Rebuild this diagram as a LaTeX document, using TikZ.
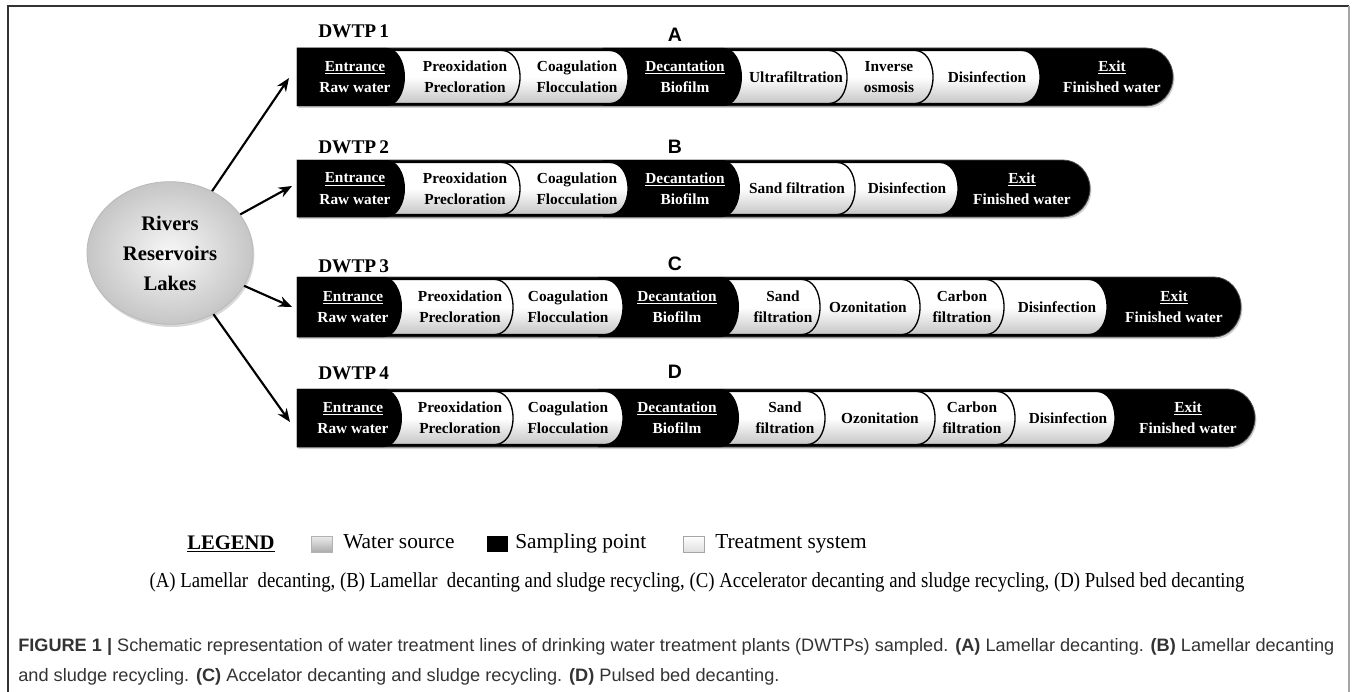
\documentclass[tikz,border=0pt]{standalone}
\usepackage{fontspec}
\setmainfont{Liberation Serif}
\newfontfamily\capfont{Liberation Sans}
\usetikzlibrary{shapes.geometric,arrows.meta,shadows}
\newcommand\barseg[6]{%
  \pgfmathsetmacro\xb{#2-#5}%
  \pgfmathsetmacro\ym{(#3+#4)/2}%
  \pgfmathsetmacro\kx{\xb+0.5523*#5}%
  \pgfmathsetmacro\kyA{\ym-0.5523*(#4-#3)/2}%
  \pgfmathsetmacro\kyB{\ym+0.5523*(#4-#3)/2}%
  \path[#6] (#1,#3) -- (\xb,#3) .. controls (\kx,#3) and (#2,\kyA) .. (#2,\ym)
     .. controls (#2,\kyB) and (\kx,#4) .. (\xb,#4) -- (#1,#4) -- cycle;}
\newcommand\wseg[4]{\barseg{#1}{#2}{#3+2.5}{#4-2.5}{18}{whiteseg}}
\newcommand\bseg[4]{\barseg{#1}{#2}{#3}{#4}{18}{blackseg}}
\newcommand\bgbar[4]{\barseg{#1}{#2}{#3}{#4}{27}{bgbarstyle}}
\begin{document}
\begin{tikzpicture}[x=0.75pt,y=-0.75pt,
  segtxt/.style={font=\fontsize{11.5}{16}\selectfont\bfseries, align=center, inner sep=0pt},
  wtxt/.style={segtxt, text=black},
  btxt/.style={segtxt, text=white},
  whiteseg/.style={draw=black, line width=1pt, top color=white, bottom color=gray!45, middle color=white},
  blackseg/.style={fill=black},
  bgbarstyle/.style={fill=black, draw=gray!60!black, line width=0.6pt,
     drop shadow={shadow xshift=1pt, shadow yshift=-1.5pt, opacity=0.35}},
  plantlbl/.style={font=\fontsize{14.5}{16}\selectfont\bfseries, anchor=west, inner sep=0pt},
  letterlbl/.style={font=\capfont\fontsize{14.6}{16}\selectfont\bfseries, inner sep=0pt},
  arr/.style={-{Stealth[length=10pt,width=8pt]}, line width=1.6pt},
  legsq/.style={minimum width=15.5pt, minimum height=12pt, inner sep=0pt},
  legtxt/.style={font=\fontsize{16}{18}\selectfont, anchor=base west, inner sep=0pt}]
\useasboundingbox (0,0) rectangle (1357,692);
\fill[white] (0,0) rectangle (1357,692);
% frame
\draw[gray!40!black, line width=1.1pt] (8,692) -- (8,6) -- (1349,6);
\draw[gray!70, line width=1.6pt] (1349,6) -- (1349,692);

% ---------- Row 1 ----------
\bgbar{297}{1173}{48}{106}
\wseg{908}{1040}{48}{106}
\wseg{822}{933}{48}{106}
\wseg{717}{847}{48}{106}
\bseg{603}{742}{48}{106}
\wseg{495}{628}{48}{106}
\wseg{380}{520}{48}{106}
\bseg{297}{405}{48}{106}
\node[plantlbl] (p1) at (318,31) {DWTP\,1};
\node[letterlbl] (lA) at (675,35) {A};
\node[btxt] (r1a) at (355,77) {\underline{Entrance}\\Raw water};
\node[wtxt] (r1b) at (465,77) {Preoxidation\\Precloration};
\node[wtxt] (r1c) at (577,77) {Coagulation\\Flocculation};
\node[btxt] (r1d) at (685,77) {\underline{Decantation}\\Biofilm};
\node[wtxt] (r1e) at (796,77) {Ultrafiltration};
\node[wtxt] (r1f) at (889,77) {Inverse\\osmosis};
\node[wtxt] (r1g) at (987,77) {Disinfection};
\node[btxt] (r1h) at (1112,77) {\underline{Exit}\\Finished water};

% ---------- Row 2 ----------
\bgbar{297}{1090}{160}{217}
\wseg{833}{958}{160}{217}
\wseg{715}{855}{160}{217}
\bseg{603}{740}{160}{217}
\wseg{495}{628}{160}{217}
\wseg{380}{520}{160}{217}
\bseg{297}{405}{160}{217}
\node[plantlbl] (p2) at (318,147) {DWTP\,2};
\node[letterlbl] (lB) at (675,147) {B};
\node[btxt] (r2a) at (355,188.5) {\underline{Entrance}\\Raw water};
\node[wtxt] (r2b) at (465,188.5) {Preoxidation\\Precloration};
\node[wtxt] (r2c) at (577,188.5) {Coagulation\\Flocculation};
\node[btxt] (r2d) at (685,188.5) {\underline{Decantation}\\Biofilm};
\node[wtxt] (r2e) at (797,188.5) {Sand filtration};
\node[wtxt] (r2f) at (907,188.5) {Disinfection};
\node[btxt] (r2g) at (1022,188.5) {\underline{Exit}\\Finished water};

% ---------- Row 3 ----------
\bgbar{297}{1241}{277}{337}
\wseg{979}{1107}{277}{337}
\wseg{895}{1004}{277}{337}
\wseg{795}{920}{277}{337}
\wseg{714}{820}{277}{337}
\bseg{598}{739}{277}{337}
\wseg{488}{623}{277}{337}
\wseg{377}{513}{277}{337}
\bseg{297}{402}{277}{337}
\node[plantlbl] (p3) at (318,266) {DWTP\,3};
\node[letterlbl] (lC) at (675,264) {C};
\node[btxt] (r3a) at (353,307) {\underline{Entrance}\\Raw water};
\node[wtxt] (r3b) at (460,307) {Preoxidation\\Precloration};
\node[wtxt] (r3c) at (568,307) {Coagulation\\Flocculation};
\node[btxt] (r3d) at (677,307) {\underline{Decantation}\\Biofilm};
\node[wtxt] (r3e) at (783,307) {Sand\\filtration};
\node[wtxt] (r3f) at (868,307) {Ozonitation};
\node[wtxt] (r3g) at (962,307) {Carbon\\filtration};
\node[wtxt] (r3h) at (1057,307) {Disinfection};
\node[btxt] (r3i) at (1174,307) {\underline{Exit}\\Finished water};

% ---------- Row 4 ----------
\bgbar{297}{1255}{389}{447}
\wseg{990}{1115}{389}{447}
\wseg{910}{1015}{389}{447}
\wseg{800}{935}{389}{447}
\wseg{714}{825}{389}{447}
\bseg{598}{739}{389}{447}
\wseg{488}{623}{389}{447}
\wseg{377}{513}{389}{447}
\bseg{297}{402}{389}{447}
\node[plantlbl] (p4) at (318,373) {DWTP\,4};
\node[letterlbl] (lD) at (675,372) {D};
\node[btxt] (r4a) at (353,418) {\underline{Entrance}\\Raw water};
\node[wtxt] (r4b) at (460,418) {Preoxidation\\Precloration};
\node[wtxt] (r4c) at (568,418) {Coagulation\\Flocculation};
\node[btxt] (r4d) at (677,418) {\underline{Decantation}\\Biofilm};
\node[wtxt] (r4e) at (785,418) {Sand\\filtration};
\node[wtxt] (r4f) at (880,418) {Ozonitation};
\node[wtxt] (r4g) at (972,418) {Carbon\\filtration};
\node[wtxt] (r4h) at (1068,418) {Disinfection};
\node[btxt] (r4i) at (1188,418) {\underline{Exit}\\Finished water};

% ---------- Source ----------
\node[ellipse, minimum width=124.5pt, minimum height=107pt, inner sep=0pt,
      inner color=gray!6, outer color=gray!45, draw=gray!55, line width=0.6pt,
      drop shadow={shadow xshift=1pt, shadow yshift=-2pt, opacity=0.3},
      align=center, font=\fontsize{15.5}{22.5}\selectfont\bfseries]
      (src) at (170,253) {Rivers\\Reservoirs\\Lakes};
\coordinate (in1) at (289,78);
\coordinate (in2) at (292,186);
\coordinate (in3) at (292,307);
\coordinate (in4) at (290,422);
\draw[arr] (src) -- (in1);
\draw[arr] (src) -- (in2);
\draw[arr] (src) -- (in3);
\draw[arr] (src) -- (in4);

% ---------- Legend ----------
\node[legtxt, font=\fontsize{15.5}{18}\selectfont\bfseries] (leg) at (187,549) {\underline{LEGEND}};
\node[legsq, top color=gray!15, bottom color=gray!65, draw=gray!60] (sq1) at (321.5,544) {};
\node[legtxt] (t1) at (343,548) {Water\ source};
\node[legsq, fill=black] (sq2) at (497.5,544) {};
\node[legtxt] (t2) at (515,548) {Sampling\ point};
\node[legsq, top color=white, bottom color=gray!25, draw=gray!70] (sq3) at (694,544) {};
\node[legtxt] (t3) at (715,548) {Treatment\ system};
\node[inner sep=0pt, font=\fontsize{16}{18}\selectfont] (legline) at (697,582)
  {\resizebox{821pt}{\height}{(A) Lamellar\ \ decanting, (B) Lamellar\ \ decanting and sludge recycling, (C) Accelerator decanting and sludge recycling, (D) Pulsed bed decanting}};

% ---------- Caption ----------
\node[anchor=west, inner sep=0pt, text=black!80, font=\capfont\fontsize{13.5}{15}\selectfont] (cap1) at (18,647)
  {\resizebox{987pt}{\height}{\textbf{FIGURE 1 |} Schematic representation of water treatment lines of drinking water treatment plants (DWTPs) sampled. \textbf{(A)} Lamellar decanting. \textbf{(B)} Lamellar decanting}};
\node[anchor=west, inner sep=0pt, text=black!80, font=\capfont\fontsize{13.5}{15}\selectfont] (cap2) at (18,677)
  {\resizebox{571pt}{\height}{and sludge recycling. \textbf{(C)} Accelator decanting and sludge recycling. \textbf{(D)} Pulsed bed decanting.}};
\end{tikzpicture}
\end{document}
